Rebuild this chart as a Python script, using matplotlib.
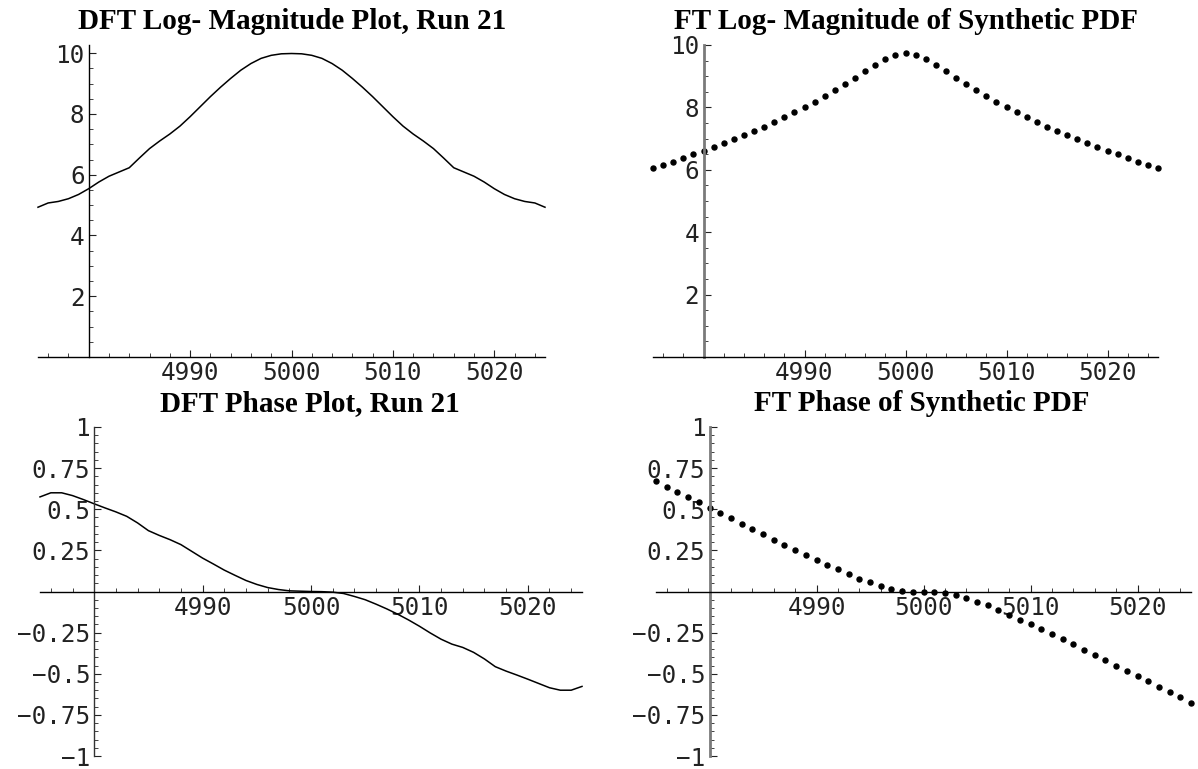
import matplotlib
matplotlib.use("Agg")
import matplotlib.pyplot as plt
from matplotlib.ticker import MultipleLocator, FixedLocator, FuncFormatter

# ---------------- data ----------------
freq = list(range(4975, 5026))

dft_logmag = [4.93, 5.07, 5.12, 5.21, 5.35, 5.54, 5.76, 5.95, 6.09, 6.23,
              6.55, 6.86, 7.11, 7.34, 7.60, 7.91, 8.24, 8.57, 8.88, 9.17,
              9.44, 9.66, 9.83, 9.93, 9.98, 9.99, 9.98, 9.93, 9.83, 9.66,
              9.44, 9.17, 8.88, 8.57, 8.24, 7.91, 7.60, 7.34, 7.11, 6.86,
              6.55, 6.23, 6.09, 5.95, 5.76, 5.54, 5.35, 5.21, 5.12, 5.07, 4.93]

ft_logmag = [6.05, 6.15, 6.26, 6.37, 6.50, 6.60, 6.72, 6.85, 6.98, 7.10,
             7.24, 7.38, 7.53, 7.68, 7.84, 8.01, 8.18, 8.37, 8.56, 8.75,
             8.95, 9.17, 9.37, 9.54, 9.68, 9.73, 9.68, 9.54, 9.37, 9.17,
             8.95, 8.75, 8.56, 8.37, 8.18, 8.01, 7.84, 7.68, 7.53, 7.38,
             7.24, 7.10, 6.98, 6.85, 6.72, 6.60, 6.50, 6.37, 6.26, 6.15, 6.05]

dft_phase = [0.575, 0.600, 0.600, 0.583, 0.559, 0.533, 0.508, 0.484, 0.457, 0.417,
             0.370, 0.341, 0.315, 0.285, 0.244, 0.203, 0.167, 0.130, 0.098, 0.067,
             0.043, 0.024, 0.012, 0.004, 0.002, 0.000, -0.001, -0.004, -0.012, -0.030,
             -0.050, -0.077, -0.106, -0.138, -0.173, -0.211, -0.252, -0.290, -0.320, -0.340,
             -0.370, -0.410, -0.457, -0.484, -0.508, -0.533, -0.559, -0.585, -0.600, -0.600, -0.577]

ft_phase = [0.671, 0.638, 0.606, 0.573, 0.543, 0.510, 0.478, 0.445, 0.413, 0.380,
            0.348, 0.315, 0.285, 0.254, 0.224, 0.193, 0.163, 0.134, 0.106, 0.079,
            0.055, 0.033, 0.016, 0.004, 0.000, -0.002, -0.004, -0.010, -0.022, -0.039,
            -0.061, -0.085, -0.114, -0.142, -0.171, -0.199, -0.230, -0.260, -0.290, -0.320,
            -0.356, -0.386, -0.419, -0.451, -0.482, -0.514, -0.547, -0.579, -0.612, -0.644, -0.677]

titles = ["DFT Log- Magnitude Plot, Run 21", "FT Log- Magnitude of Synthetic PDF",
          "DFT Phase Plot, Run 21", "FT Phase of Synthetic PDF"]
x_ticks = [4990, 5000, 5010, 5020]
mag_ticks = [2, 4, 6, 8, 10]
phase_ticks = [-1, -0.75, -0.5, -0.25, 0.25, 0.5, 0.75, 1]

# ---------------- layout ----------------
W, H = 1198, 769
fig = plt.figure(figsize=(W / 100, H / 100), dpi=100)

def add_ax(x0, x1, y0, y1):
    # pixel coords (top-left origin) -> figure fraction
    return fig.add_axes([x0 / W, 1 - y1 / H, (x1 - x0) / W, (y1 - y0) / H])

def fmt_phase(v, pos):
    return ("%g" % v).replace("-", "\u2212")

def fmt_mag(v, pos):
    return "%d" % v

def style(ax, ylim, yticks, yminor, yfmt, yaxis_color, yaxis_lw):
    ax.set_xlim(4975, 5025)
    ax.set_ylim(*ylim)
    for s in ("top", "right"):
        ax.spines[s].set_visible(False)
    ax.spines["left"].set_position(("data", 4980))
    ax.spines["bottom"].set_position(("data", 0))
    ax.spines["left"].set_color(yaxis_color)
    ax.spines["left"].set_linewidth(yaxis_lw)
    ax.spines["bottom"].set_linewidth(1.0)
    ax.xaxis.set_major_locator(FixedLocator(x_ticks))
    ax.xaxis.set_minor_locator(MultipleLocator(2))
    ax.yaxis.set_major_locator(FixedLocator(yticks))
    ax.yaxis.set_minor_locator(MultipleLocator(yminor))
    ax.yaxis.set_major_formatter(FuncFormatter(yfmt))
    ax.tick_params(which="major", direction="in", length=5, width=0.8, colors="#222222",
                   labelsize=17.5, pad=3)
    ax.tick_params(which="minor", direction="in", length=3, width=0.6, colors="#222222")
    for lab in ax.get_xticklabels() + ax.get_yticklabels():
        lab.set_family("DejaVu Sans Mono")
    ax.patch.set_visible(False)

def title(txt, xc, yb):
    fig.text(xc / W, 1 - yb / H, txt, ha="center", va="baseline",
             family="Liberation Serif", weight="bold", fontsize=21)

# top-left
ax1 = add_ax(38, 545, 45, 357)
style(ax1, (0, 10.27), mag_ticks, 0.5, fmt_mag, "black", 1.0)
ax1.plot(freq, dft_logmag, color="black", lw=1.1, clip_on=False)
title(titles[0], 292, 29)

# top-right
ax2 = add_ax(653, 1158, 45, 357)
style(ax2, (0, 10.0), mag_ticks, 0.5, fmt_mag, "#7a7a7a", 2.0)
ax2.plot(freq, ft_logmag, "o", color="black", ms=3.6, clip_on=False)
title(titles[1], 906, 29)

# bottom-left
ax3 = add_ax(40, 582, 427, 756)
style(ax3, (-1, 1), phase_ticks, 0.05, fmt_phase, "#333333", 1.0)
ax3.plot(freq, dft_phase, color="black", lw=1.1, clip_on=False)
title(titles[2], 310, 411)

# bottom-right
ax4 = add_ax(656, 1191, 427, 756)
style(ax4, (-1, 1), phase_ticks, 0.05, fmt_phase, "#7a7a7a", 2.0)
ax4.plot(freq, ft_phase, "o", color="black", ms=3.6, clip_on=False)
title(titles[3], 922, 411)

fig.savefig("out.png", dpi=100)
